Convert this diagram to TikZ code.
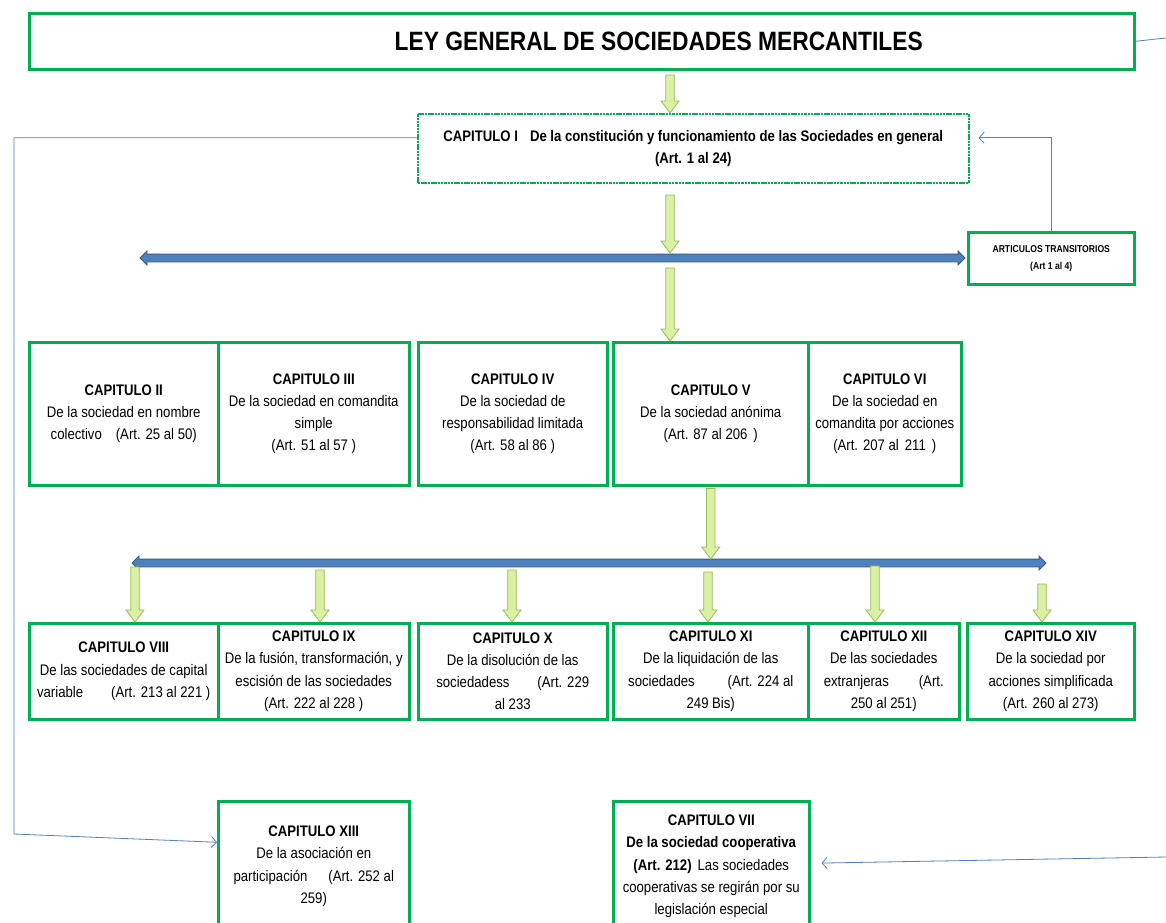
\documentclass[tikz,border=0pt]{standalone}
\usepackage{fontspec}
\setmainfont[FakeStretch=0.86]{Liberation Sans}
\usetikzlibrary{calc,shapes.arrows,arrows.meta}

\newcommand\flecha[2]{%
\draw[flechaverde] ($#1+(-4.3,0)$) -- ($#2+(-4.3,-12)$) -- ($#2+(-9,-12)$) -- #2
  -- ($#2+(9,-12)$) -- ($#2+(4.3,-12)$) -- ($#1+(4.3,0)$) -- cycle;}

\begin{document}
\begin{tikzpicture}[x=1pt,y=-1pt,>={Straight Barb[length=5pt,width=11pt]}]

\definecolor{verde}{RGB}{0,176,80}
\definecolor{verdeclaro}{RGB}{218,240,165}
\definecolor{verdeborde}{RGB}{155,187,89}
\definecolor{azul}{RGB}{79,129,189}
\definecolor{azulosc}{RGB}{56,93,138}

\tikzset{
  caja/.style={draw=verde, line width=2.5pt, inner sep=0pt, align=center, anchor=north west,
    font=\fontsize{15.3}{22.3}\selectfont},
  fila1/.style={caja, minimum height=143pt},
  fila2/.style={caja, minimum height=96pt},
  eje/.style={double arrow, double arrow head extend=3pt, inner sep=3.5pt, fill=azul,
    draw=azulosc, line width=0.8pt},
  flechaverde/.style={fill=verdeclaro, draw=verdeborde, line width=0.8pt},
  conector/.style={draw=azul, line width=0.8pt}
}

\path[use as bounding box, fill=white] (0,0) rectangle (1166,922);

\node[caja, minimum width=1105pt, minimum height=56pt, font=\fontsize{26.5}{30}\selectfont\bfseries] (ley) at (28,12)
  {\hspace*{154pt}LEY GENERAL DE SOCIEDADES MERCANTILES};

\node[caja, line width=1.6pt, dash pattern=on 2.5pt off 0.8pt, minimum width=551pt, minimum height=69pt,
  font=\fontsize{15.3}{22}\selectfont\bfseries] (cap1) at (417,113)
  {CAPITULO I\hspace{12pt}De la constitución y funcionamiento de las Sociedades en general\\(Art. 1 al 24)};

\node[caja, minimum width=166pt, minimum height=52pt, font=\fontsize{10}{17}\selectfont\bfseries] (transito) at (967,231)
  {ARTICULOS TRANSITORIOS\\(Art 1 al 4)};

\node[fila1, minimum width=189pt] (cap2) at (28,341)
  {\textbf{CAPITULO II}\\De la sociedad en nombre\\colectivo\hspace{14pt}(Art. 25 al 50)};
\node[fila1, minimum width=191pt] (cap3) at (217,341)
  {\textbf{CAPITULO III}\\De la sociedad en comandita\\simple\\(Art. 51 al 57 )};
\node[fila1, minimum width=189pt] (cap4) at (417,341)
  {\textbf{CAPITULO IV}\\De la sociedad de\\responsabilidad limitada\\(Art. 58 al 86 )};
\node[fila1, minimum width=195pt] (cap5) at (612,341)
  {\textbf{CAPITULO V}\\De la sociedad anónima\\(Art. 87 al 206\hspace{6pt})};
\node[fila1, minimum width=153pt] (cap6) at (807,341)
  {\textbf{CAPITULO VI}\\De la sociedad en\\comandita por acciones\\(Art. 207 al\hspace{6pt}211\hspace{6pt})};

\node[fila2, minimum width=189pt] (cap8) at (28,622)
  {\textbf{CAPITULO VIII}\\De las sociedades de capital\\variable\hspace{28pt}(Art. 213 al 221 )};
\node[fila2, minimum width=191pt] (cap9) at (217,622)
  {\textbf{CAPITULO IX}\\De la fusión, transformación, y\\escisión de las sociedades\\(Art. 222 al 228 )};
\node[fila2, minimum width=189pt] (cap10) at (417,622)
  {\textbf{CAPITULO X}\\De la disolución de las\\sociedadess\hspace{28pt}(Art. 229\\al 233};
\node[fila2, minimum width=195pt] (cap11) at (612,622)
  {\textbf{CAPITULO XI}\\De la liquidación de las\\sociedades\hspace{33pt}(Art. 224 al\\249 Bis)};
\node[fila2, minimum width=151pt] (cap12) at (807,622)
  {\textbf{CAPITULO XII}\\De las sociedades\\extranjeras\hspace{30pt}(Art.\\250 al 251)};
\node[fila2, minimum width=167pt] (cap14) at (966,622)
  {\textbf{CAPITULO XIV}\\De la sociedad por\\acciones simplificada\\(Art. 260 al 273)};

\node[caja, minimum width=191pt, minimum height=130pt] (cap13) at (217,800)
  {\textbf{CAPITULO XIII}\\De la asociación en\\participación\hspace{21pt}(Art. 252 al\\259)};
\node[caja, minimum width=196pt, minimum height=130pt] (cap7) at (612,800)
  {\textbf{CAPITULO VII}\\\textbf{De la sociedad cooperativa}\\\textbf{(Art. 212)}\hspace{6pt}Las sociedades\\cooperativas se regirán por su\\legislación especial};

\node[eje, minimum height=825pt] (eje1) at (552.5,258) {};
\node[eje, minimum height=914pt] (eje2) at (589,563) {};

\coordinate (a1) at (670,75);
\coordinate (b1) at (a1 |- cap1.north);
\flecha{(a1)}{(b1)}
\coordinate (a2) at (670,195);
\coordinate (b2) at (670,253);
\flecha{(a2)}{(b2)}
\coordinate (a3) at (670,268);
\coordinate (b3) at (a3 |- cap5.north);
\flecha{(a3)}{(b3)}
\coordinate (a4) at ([yshift=-2pt]cap5.south);
\coordinate (b4) at (a4 |- 0,559);
\flecha{(a4)}{(b4)}

\foreach \x/\c/\y in {135/cap8/567, 320/cap9/570, 512/cap10/570, 708/cap11/572, 875/cap12/566, 1042/cap14/584}{
  \coordinate (a) at (\x,\y);
  \coordinate (b) at (\c.north -| a);
  \flecha{(a)}{(b)}
}

\draw[conector] (ley.east) -- (1166,38);
\draw[conector,->] ([yshift=10.5pt]cap1.west) -| (14,834) -- ([yshift=24pt]cap13.west);
\draw[conector,->,shorten >=9pt] (transito.north) |- ([yshift=10.5pt]cap1.east);
\draw[conector,->,shorten >=11pt] (1166,857) -- ([yshift=3pt]cap7.east);

\end{tikzpicture}
\end{document}
